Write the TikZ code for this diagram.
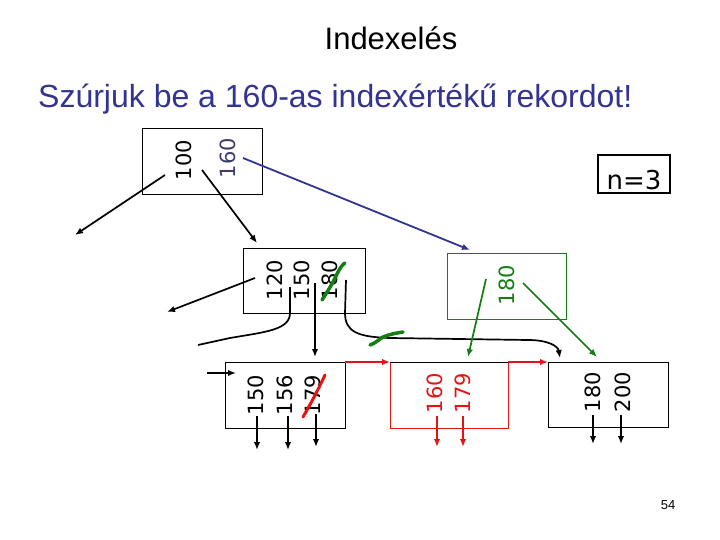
\documentclass[tikz,border=0pt]{standalone}
\usepackage{fontspec}
\setmainfont{Liberation Sans}
\newfontfamily\dv{DejaVu Sans}
\usetikzlibrary{arrows.meta}
\definecolor{tblue}{RGB}{51,51,145}
\definecolor{kblue}{RGB}{60,60,110}
\definecolor{tgreen}{RGB}{20,125,20}
\definecolor{tred}{RGB}{228,20,20}
\tikzset{
  key/.style={rotate=90,inner sep=0pt,font=\dv\fontsize{21}{21}\selectfont},
  boxline/.style={line width=0.9pt},
  ptr/.style={line width=1.7pt,-{Latex[length=8pt,width=6.5pt]}},
  strike/.style={line width=3.5pt,line cap=round},
}
\begin{document}
\begin{tikzpicture}[x=1pt,y=-1pt]
\useasboundingbox (0,0) rectangle (720,540);
% titles
\node[anchor=base,inner sep=0pt,font=\fontsize{31}{36}\selectfont] (title) at (391,50) {Indexelés};
\node[anchor=base west,inner sep=0pt,text=tblue,font=\fontsize{32}{38}\selectfont] (sub) at (38,108) {Szúrjuk be a 160-as indexértékű rekordot!};
% n=3
\node[draw,line width=2pt,minimum width=72pt,minimum height=38pt,inner sep=0pt] (nbox) at (634,174) {};
\node[inner sep=0pt,font=\dv\fontsize{26}{26}\selectfont] (n3) at (634,180) {n=3};
% root
\draw[boxline] (142,128) rectangle (262,194);
\node[key] (r100) at (184,160) {100};
\node[key,text=kblue] (r160) at (228,158) {160};
% middle node
\draw[boxline] (243,248) rectangle (365,313);
\node[key] (m120) at (275,280) {120};
\node[key] (m150) at (302,280) {150};
\node[key] (m180) at (330,280) {180};
% green node
\draw[boxline,tgreen] (447,253) rectangle (566,319);
\node[key,text=tgreen] (g180) at (507,285) {180};
% leaves
\draw[boxline] (225,362) rectangle (345,428);
\node[key] (l150) at (256,395) {150};
\node[key] (l156) at (285,395) {156};
\node[key] (l179) at (313,395) {179};
\draw[boxline,tred] (390,362) rectangle (508,428);
\draw[boxline] (390,362) -- (508,362);
\node[key,text=tred] (n160) at (435,393) {160};
\node[key,text=tred] (n179) at (463,393) {179};
\draw[boxline] (548,362) rectangle (668,427);
\node[key] (q180) at (593,392) {180};
\node[key] (q200) at (623,392) {200};
% coordinates for pointers
\coordinate (rA) at (165,175); \coordinate (rAe) at (75,235);
\coordinate (rB) at (202,170); \coordinate (rBe) at (257,243);
\coordinate (rC) at (243,158); \coordinate (rCe) at (470,250);
\coordinate (mA) at (255,278); \coordinate (mAe) at (167,312);
\coordinate (mB) at (290,287);
\coordinate (mC) at (315,283); \coordinate (mCe) at (315,357);
\coordinate (mD) at (346,280); \coordinate (mDe) at (560,358);
\coordinate (gA) at (486,279); \coordinate (gAe) at (468,357);
\coordinate (gB) at (523,283); \coordinate (gBe) at (597,357);
% root pointers
\draw[ptr] (rA) -- (rAe);
\draw[ptr] (rB) -- (rBe);
\draw[ptr,tblue,line width=1.8pt] (rC) -- (rCe);
% middle pointers
\draw[ptr] (mA) -- (mAe);
\draw[line width=1.7pt] (mB) -- (290,313) .. controls (290,330) and (265,332) .. (230,338) -- (198,345);
\draw[ptr] (mC) -- (mCe);
\draw[ptr] (mD) -- (345,313) .. controls (345,332) and (358,337) .. (390,338) -- (528,340) .. controls (548,340) and (558,346) .. (mDe);
% green pointers
\draw[ptr,tgreen] (gA) -- (gAe);
\draw[ptr,tgreen] (gB) -- (gBe);
% leaf chain
\coordinate (cA) at (207,373);
\draw[ptr] (cA) -- (236,373);
\draw[ptr,tred] (345,362) -- (390,362);
\draw[ptr,tred] (508,362) -- (548,362);
% data pointers
\foreach \x/\a/\b in {257/416/450,288/416/450,316/414/447,437/416/447,463/416/447,593/415/444,621/415/444}{
  \ifnum\x=437 \def\c{tred}\else\ifnum\x=463 \def\c{tred}\else\def\c{black}\fi\fi
  \draw[ptr,\c] (\x,\a) -- (\x,\b);
}
% strike-throughs
\draw[strike,tgreen] (322,300) .. controls (327,292) and (332,285) .. (337,274) .. controls (340,268) and (342,265) .. (345,263);
\draw[strike,tgreen] (370,345) .. controls (376,343) and (378,340) .. (383,337) .. controls (390,334) and (397,333) .. (403,332);
\draw[line width=3pt,line cap=round,tred] (303,417) .. controls (310,405) and (318,390) .. (325,375);
% page number
\node[inner sep=0pt,font=\fontsize{13}{13}\selectfont] (pg) at (668,505) {54};
\end{tikzpicture}
\end{document}
